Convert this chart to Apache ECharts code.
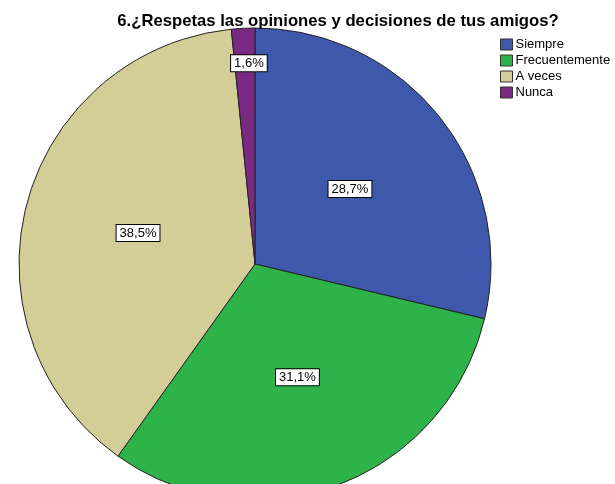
<!DOCTYPE html>
<html>
<head>
<meta charset="utf-8">
<script src="https://cdn.jsdelivr.net/npm/echarts@6/dist/echarts.min.js"></script>
<style>
  html, body { margin: 0; padding: 0; background: #fff; }
  #chart { width: 615px; height: 484px; }
</style>
</head>
<body>
<div id="chart"></div>
<script>
// respuestas (porcentaje)
var categories = ['Siempre', 'Frecuentemente', 'A veces', 'Nunca'];
var percents = [28.7, 31.1, 38.5, 1.6];
var colors = ['#3e58ac', '#2db34a', '#d3cd98', '#7a2a82'];

var chart = echarts.init(document.getElementById('chart'));

var data = categories.map(function (name, i) {
  return { name: name, value: percents[i], itemStyle: { color: colors[i] } };
});

var option = {
  animation: false,
  title: {
    text: '6.¿Respetas las opiniones y decisiones de tus amigos?',
    left: 333,
    textAlign: 'center',
    top: 8,
    textStyle: {
      fontFamily: 'Liberation Sans, Arial, sans-serif',
      fontSize: 16.7,
      fontWeight: 'bold',
      color: '#000'
    }
  },
  legend: {
    orient: 'vertical',
    left: 500,
    top: 38,
    padding: 0,
    icon: 'rect',
    itemWidth: 12,
    itemHeight: 11,
    itemGap: 3,
    itemStyle: { borderColor: '#333', borderWidth: 1 },
    textStyle: {
      fontFamily: 'Liberation Sans, Arial, sans-serif',
      fontSize: 13,
      color: '#000',
      padding: [0, 0, 0, -2]
    },
    data: categories
  },
  series: [{
    type: 'pie',
    center: [255, 264],
    radius: 236,
    startAngle: 90,
    clockwise: true,
    data: data,
    itemStyle: { borderColor: '#222', borderWidth: 1 },
    emphasis: { disabled: true },
    label: {
      show: true,
      position: 'inside',
      formatter: function (p) {
        return p.value.toFixed(1).replace('.', ',') + '%';
      },
      fontFamily: 'Liberation Sans, Arial, sans-serif',
      fontSize: 13,
      color: '#000',
      backgroundColor: '#fff',
      borderColor: '#000',
      borderWidth: 1,
      padding: [2, 3, 1, 3]
    },
    labelLayout: function (p) {
      if (p.dataIndex === 3) {
        return { dy: -80 };
      }
      return {};
    },
    labelLine: { show: false }
  }]
};

chart.setOption(option);
</script>
</body>
</html>
